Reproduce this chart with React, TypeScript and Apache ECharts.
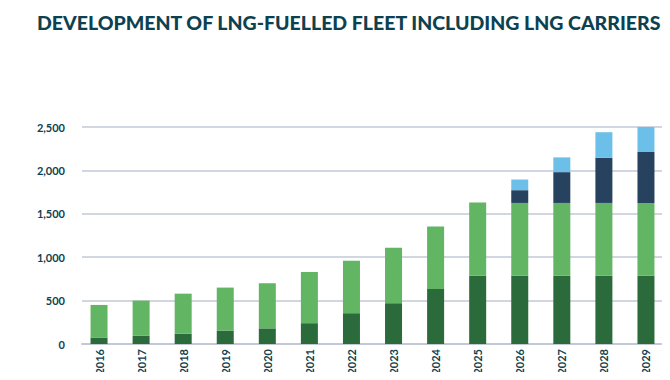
import React, { useEffect, useRef } from "react";
import * as echarts from "echarts";

const years = ["2016","2017","2018","2019","2020","2021","2022","2023","2024","2025","2026","2027","2028","2029"];
const darkGreen = [75, 95, 120, 155, 180, 240, 355, 470, 635, 785, 785, 785, 785, 785];
const lightGreen = [375, 405, 460, 495, 520, 590, 605, 640, 720, 845, 840, 840, 840, 840];
const navy = [null, null, null, null, null, null, null, null, null, null, 147, 355, 520, 587];
const lightBlue = [null, null, null, null, null, null, null, null, null, null, 123, 170, 295, 288];
const yTicks = [0, 500, 1000, 1500, 2000, 2500];

const TEXT = "#0e4150";
const FONT = "Lato";

export default function App() {
  const ref = useRef<HTMLDivElement>(null);
  useEffect(() => {
    if (!ref.current) return;
    const chart = echarts.init(ref.current, null, { renderer: "svg" });
    const bar = (name: string, data: (number | null)[], color: string) => ({
      name,
      type: "bar",
      stack: "total",
      xAxisIndex: 0,
      yAxisIndex: 0,
      barWidth: 17,
      data,
      itemStyle: { color },
    });
    chart.setOption({
      animation: false,
      backgroundColor: "#ffffff",
      graphic: [
        {
          type: "text",
          left: 37,
          top: 12,
          style: {
            text: "DEVELOPMENT OF LNG-FUELLED FLEET INCLUDING LNG CARRIERS",
            fill: TEXT,
            font: `900 19.5px ${FONT}`,
          },
        },
      ],
      grid: [
        { left: 78, right: 3, top: 127, bottom: 36 },
        { left: 82, right: 8, top: 127, bottom: 36 },
      ],
      xAxis: [
        {
          gridIndex: 0,
          type: "category",
          data: years,
          axisLine: { show: false },
          axisTick: { show: false },
          axisLabel: {
            rotate: 90,
            margin: 5,
            color: TEXT,
            fontFamily: FONT,
            fontWeight: "bold",
            fontSize: 11,
          },
        },
        {
          gridIndex: 1,
          type: "category",
          data: years,
          axisLine: { show: true, lineStyle: { color: "#c3c8d6", width: 2 } },
          axisTick: { show: false },
          axisLabel: { show: false },
        },
      ],
      yAxis: [
        {
          gridIndex: 0,
          type: "value",
          min: 0,
          max: 2500,
          interval: 500,
          show: false,
          splitLine: { show: false },
        },
        {
          gridIndex: 1,
          type: "value",
          min: yTicks[0],
          max: yTicks[yTicks.length - 1],
          interval: 500,
          axisLine: { show: false },
          axisTick: { show: false },
          axisLabel: {
            margin: 17,
            color: TEXT,
            fontFamily: FONT,
            fontWeight: "bold",
            fontSize: 11,
            formatter: (v: number) => v.toLocaleString("en-US"),
          },
          splitLine: { lineStyle: { color: "#c3c8d6", width: 1.5 } },
        },
      ],
      series: [
        bar("LNG carriers", darkGreen, "#2a6a3b"),
        bar("LNG-fuelled", lightGreen, "#62b562"),
        bar("On order", navy, "#27425e"),
        bar("Projected", lightBlue, "#6cbfe9"),
      ],
    });
    return () => chart.dispose();
  }, []);
  return <div ref={ref} style={{ width: 670, height: 380, margin: -8 }} />;
}
